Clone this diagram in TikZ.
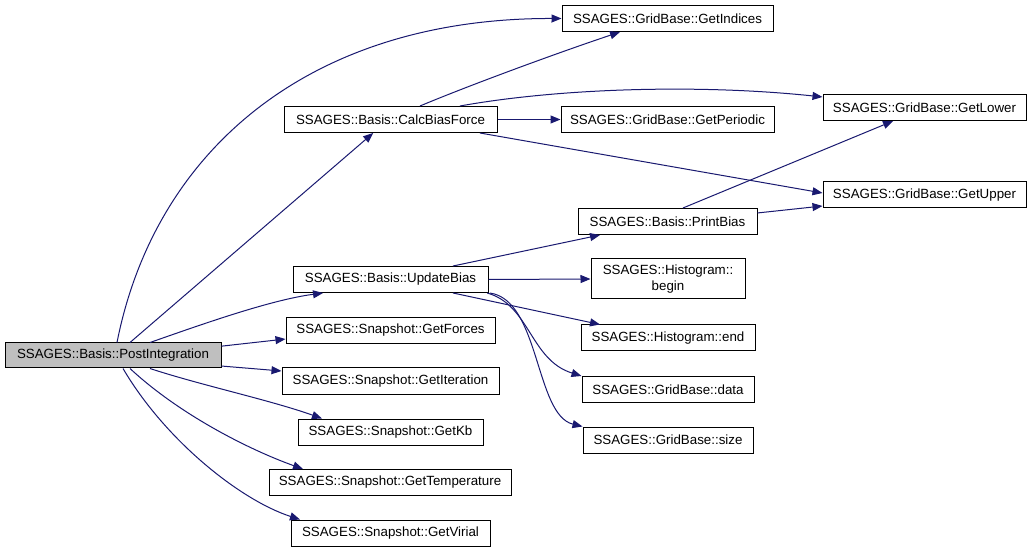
\documentclass[tikz,border=0pt]{standalone}
\usepackage{fontspec}
\setmainfont{Liberation Sans}
\usetikzlibrary{arrows.meta}
\definecolor{edgeblue}{HTML}{191970}
\definecolor{nodegray}{HTML}{BFBFBF}
\begin{document}
\begin{tikzpicture}[x=0.75pt,y=-0.75pt,
  box/.style={draw=black, fill=white, line width=0.75pt, inner sep=0pt, minimum height=19.5pt, font=\fontsize{10pt}{12pt}\selectfont, align=center},
  call/.style={draw=edgeblue, line width=0.75pt, -{Triangle[length=7.5pt,width=6pt,fill=edgeblue]}}]
\useasboundingbox[fill=white] (0,0) rectangle (1032,552);
% nodes
\node[box, fill=nodegray, minimum width=162pt, minimum height=18.75pt] (post) at (113,355.5) {SSAGES::Basis::PostIntegration};
\node[box, minimum width=158.25pt] (indices) at (667.5,18.5) {SSAGES::GridBase::GetIndices};
\node[box, minimum width=159.75pt] (calc) at (390.5,119.5) {SSAGES::Basis::CalcBiasForce};
\node[box, minimum width=159.75pt] (periodic) at (667.5,119.5) {SSAGES::GridBase::GetPeriodic};
\node[box, minimum width=152.25pt] (lower) at (924.5,107.5) {SSAGES::GridBase::GetLower};
\node[box, minimum width=152.25pt] (upper) at (924.5,195) {SSAGES::GridBase::GetUpper};
\node[box, minimum width=134.25pt] (printbias) at (667.5,221.5) {SSAGES::Basis::PrintBias};
\node[box, minimum width=146.25pt] (update) at (390.5,279.5) {SSAGES::Basis::UpdateBias};
\node[box, minimum width=115.5pt, minimum height=30pt] (hbegin) at (668,279) {SSAGES::Histogram::\\begin};
\node[box, minimum width=130.5pt] (hend) at (668,338) {SSAGES::Histogram::end};
\node[box, minimum width=129pt] (data) at (668,389.5) {SSAGES::GridBase::data};
\node[box, minimum width=127.5pt] (size) at (668,440) {SSAGES::GridBase::size};
\node[box, minimum width=156.75pt] (forces) at (390.5,330.5) {SSAGES::Snapshot::GetForces};
\node[box, minimum width=162.75pt] (iteration) at (390.5,381) {SSAGES::Snapshot::GetIteration};
\node[box, minimum width=138.75pt] (kb) at (390.5,432) {SSAGES::Snapshot::GetKb};
\node[box, minimum width=181.5pt] (temp) at (390,482.5) {SSAGES::Snapshot::GetTemperature};
\node[box, minimum width=149.25pt] (virial) at (390.5,533) {SSAGES::Snapshot::GetVirial};
% edges
\draw[call] ([xshift=3pt]post.north) .. controls (155,150) and (310,18) .. (indices.west);
\draw[call] ([xshift=12.75pt]post.north) -- ([xshift=-13pt]calc.south);
\draw[call] ([xshift=27.75pt]post.north) .. controls (200,325) and (270,300) .. ([xshift=-50.6pt]update.south);
\draw[call] ([yshift=7pt]post.east) -- ([yshift=-6.4pt]forces.west);
\draw[call] ([yshift=-7.9pt]post.east) -- ([yshift=7.5pt]iteration.west);
\draw[call] ([xshift=27.75pt]post.south) .. controls (200,385) and (270,400) .. ([xshift=-51.4pt]kb.north);
\draw[call] ([xshift=12.75pt]post.south) .. controls (180,415) and (250,450) .. ([xshift=-65.25pt]temp.north);
\draw[call] ([xshift=7.5pt]post.south) .. controls (165,440) and (240,500) .. ([xshift=-67.9pt]virial.north);
\draw[call] ([xshift=22.1pt]calc.north) .. controls (470,85) and (560,52) .. ([xshift=-35.6pt]indices.south);
\draw[call] (calc.east) -- (periodic.west);
\draw[call] ([xshift=52.1pt]calc.north) .. controls (560,88) and (700,84) .. ([yshift=7.9pt]lower.west);
\draw[call] ([xshift=67.1pt]calc.south) -- ([yshift=1.5pt]upper.west);
\draw[call] ([xshift=46.9pt]update.north) -- ([xshift=-50.6pt]printbias.south);
\draw[call] (update.east) -- (hbegin.west);
\draw[call] ([xshift=46.9pt]update.south) -- ([xshift=-51pt]hend.north);
\draw[call] ([xshift=-1pt]update.south east) .. controls (530,305) and (530,360) .. (data.north west);
\draw[call] ([xshift=1pt]update.south east) .. controls (540,300) and (535,415) .. (size.north west);
\draw[call] ([xshift=11.6pt]printbias.north) -- ([xshift=-23.6pt]lower.south);
\draw[call] ([yshift=6.4pt]printbias.east) -- ([yshift=-8.25pt]upper.west);
\end{tikzpicture}
\end{document}
